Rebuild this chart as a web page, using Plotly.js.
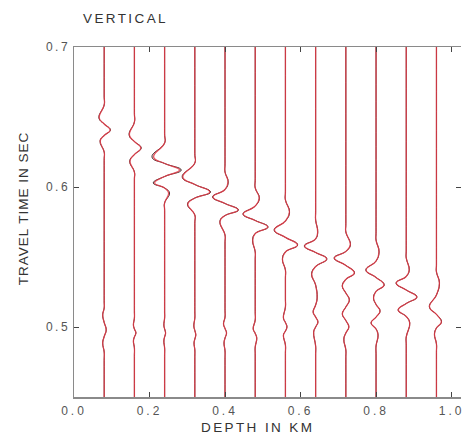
<!DOCTYPE html>
<html>
<head>
<meta charset="utf-8">
<script src="https://cdn.plot.ly/plotly-3.0.1.min.js"></script>
<style>
  html, body { margin: 0; padding: 0; background: #fff; }
  #plot { width: 473px; height: 435px; }
  .xtick text { letter-spacing: 3px; }
  .ytick text { letter-spacing: 2.5px; }
  .annotation-text { letter-spacing: 2.4px; }
  .annotation[data-index="2"] .annotation-text { letter-spacing: 1px; }
</style>
</head>
<body>
<div id="plot"></div>
<script>
// Receiver depths (km) of the vertical-component traces
const depths = [0.08, 0.16, 0.24, 0.32, 0.40, 0.48, 0.56, 0.64, 0.72, 0.80, 0.88, 0.96];

// Sample times (s) for each trace: flat stretches, then turning points and crossings
const traceTimes = [
  [0.70, 0.6650, 0.6586, 0.6493, 0.6450, 0.6407, 0.6368, 0.6329, 0.6250, 0.6190, 0.5190, 0.5136, 0.5086, 0.5032, 0.4979, 0.4932, 0.4886, 0.4821, 0.4760, 0.45],
  [0.70, 0.6530, 0.6464, 0.6371, 0.6325, 0.6279, 0.6232, 0.6186, 0.6107, 0.6050, 0.5120, 0.5064, 0.5014, 0.4986, 0.4957, 0.4929, 0.4900, 0.4850, 0.4790, 0.45],
  [0.70, 0.6380, 0.6314, 0.6214, 0.6168, 0.6121, 0.6075, 0.6029, 0.5993, 0.5957, 0.5886, 0.5830, 0.5120, 0.5064, 0.5014, 0.4986, 0.4957, 0.4929, 0.4900, 0.4850, 0.4790, 0.45],
  [0.70, 0.6240, 0.6171, 0.6071, 0.6018, 0.5964, 0.5921, 0.5879, 0.5800, 0.5740, 0.5120, 0.5064, 0.5007, 0.4975, 0.4943, 0.4914, 0.4886, 0.4836, 0.4780, 0.45],
  [0.70, 0.6170, 0.6107, 0.6036, 0.5982, 0.5929, 0.5882, 0.5836, 0.5796, 0.5757, 0.5657, 0.5600, 0.5130, 0.5071, 0.5021, 0.4989, 0.4957, 0.4921, 0.4886, 0.4829, 0.4770, 0.45],
  [0.70, 0.6060, 0.5993, 0.5921, 0.5864, 0.5807, 0.5761, 0.5714, 0.5668, 0.5621, 0.5536, 0.5480, 0.5110, 0.5050, 0.4986, 0.4954, 0.4921, 0.4857, 0.4800, 0.45],
  [0.70, 0.5970, 0.5907, 0.5821, 0.5757, 0.5693, 0.5640, 0.5586, 0.5536, 0.5486, 0.5407, 0.5350, 0.5200, 0.5143, 0.5064, 0.5032, 0.5000, 0.4971, 0.4943, 0.4871, 0.4810, 0.45],
  [0.70, 0.5830, 0.5764, 0.5679, 0.5629, 0.5579, 0.5532, 0.5486, 0.5432, 0.5379, 0.5300, 0.5207, 0.5157, 0.5107, 0.5071, 0.5036, 0.5000, 0.4964, 0.4864, 0.4800, 0.45],
  [0.70, 0.5740, 0.5679, 0.5586, 0.5540, 0.5493, 0.5440, 0.5386, 0.5340, 0.5293, 0.5243, 0.5193, 0.5143, 0.5093, 0.5046, 0.5000, 0.4957, 0.4914, 0.4836, 0.4780, 0.45],
  [0.70, 0.5680, 0.5621, 0.5536, 0.5471, 0.5407, 0.5354, 0.5300, 0.5254, 0.5207, 0.5161, 0.5114, 0.5071, 0.5029, 0.4986, 0.4943, 0.4864, 0.4800, 0.45],
  [0.70, 0.5550, 0.5493, 0.5407, 0.5361, 0.5314, 0.5264, 0.5214, 0.5168, 0.5121, 0.5075, 0.5029, 0.4929, 0.4870, 0.45],
  [0.70, 0.5450, 0.5393, 0.5314, 0.5229, 0.5143, 0.5090, 0.5036, 0.4993, 0.4950, 0.4879, 0.4820, 0.45]
];

// Synthetic trace deflections (km along the depth axis), drawn in red
const synthOffsets = [
  [0, 0, 0, -0.0132, 0, 0.0159, 0, -0.0106, 0, 0, 0, 0, -0.0040, 0, 0.0053, 0, -0.0040, 0, 0, 0],
  [0, 0, 0, -0.0132, 0, 0.0172, 0, -0.0119, 0, 0, 0, 0, -0.0026, 0, 0.0040, 0, -0.0026, 0, 0, 0],
  [0, 0, 0, -0.0291, 0, 0.0397, 0, -0.0265, 0, 0.0106, 0, 0, 0, 0, -0.0020, 0, 0.0026, 0, -0.0020, 0, 0, 0],
  [0, 0, 0, -0.0318, 0, 0.0397, 0, -0.0185, 0, 0, 0, 0, -0.0026, 0, 0.0026, 0, -0.0020, 0, 0, 0],
  [0, 0, 0, 0.0079, 0, -0.0318, 0, 0.0344, 0, -0.0132, 0, 0, 0, 0, -0.0040, 0, 0.0040, 0, -0.0026, 0, 0, 0],
  [0, 0, 0, 0.0106, 0, -0.0318, 0, 0.0331, 0, -0.0066, 0, 0, 0, 0, -0.0053, 0, 0.0040, 0, 0, 0],
  [0, 0, 0, 0.0106, 0, -0.0291, 0, 0.0318, 0, -0.0079, 0, 0, 0, 0, -0.0053, 0, 0.0040, 0, -0.0053, 0, 0, 0],
  [0, 0, 0, 0.0053, 0, -0.0291, 0, 0.0291, 0, -0.0106, 0, 0.0040, 0, -0.0066, 0, 0.0060, 0, -0.0053, 0, 0, 0],
  [0, 0, 0, 0.0119, 0, -0.0304, 0, 0.0225, 0, -0.0093, 0, 0.0093, 0, -0.0093, 0, 0.0079, 0, -0.0053, 0, 0, 0],
  [0, 0, 0, 0.0079, 0, -0.0265, 0, 0.0212, 0, -0.0066, 0, 0.0106, 0, -0.0132, 0, 0.0053, 0, 0, 0],
  [0, 0, 0, 0.0079, 0, -0.0265, 0, 0.0278, 0, -0.0212, 0, 0.0093, 0, 0, 0],
  [0, 0, 0, 0.0079, 0, -0.0185, 0, 0.0132, 0, -0.0053, 0, 0, 0]
];

// Observed trace deflections (km along the depth axis), drawn in black underneath
const observedOffsets = [
  [0, 0, 0, -0.0140, 0, 0.0165, 0, -0.0110, 0, 0, 0, 0, -0.0040, 0, 0.0053, 0, -0.0040, 0, 0, 0],
  [0, 0, 0, -0.0140, 0, 0.0180, 0, -0.0125, 0, 0, 0, 0, -0.0026, 0, 0.0040, 0, -0.0026, 0, 0, 0],
  [0, 0, 0, -0.0335, 0, 0.0440, 0, -0.0300, 0, 0.0130, 0, 0, 0, 0, -0.0020, 0, 0.0026, 0, -0.0020, 0, 0, 0],
  [0, 0, 0, -0.0335, 0, 0.0415, 0, -0.0195, 0, 0, 0, 0, -0.0026, 0, 0.0026, 0, -0.0020, 0, 0, 0],
  [0, 0, 0, 0.0085, 0, -0.0330, 0, 0.0355, 0, -0.0135, 0, 0, 0, 0, -0.0040, 0, 0.0040, 0, -0.0026, 0, 0, 0],
  [0, 0, 0, 0.0110, 0, -0.0325, 0, 0.0340, 0, -0.0070, 0, 0, 0, 0, -0.0053, 0, 0.0040, 0, 0, 0],
  [0, 0, 0, 0.0110, 0, -0.0300, 0, 0.0325, 0, -0.0080, 0, 0, 0, 0, -0.0053, 0, 0.0040, 0, -0.0053, 0, 0, 0],
  [0, 0, 0, 0.0055, 0, -0.0300, 0, 0.0298, 0, -0.0108, 0, 0.0040, 0, -0.0066, 0, 0.0060, 0, -0.0053, 0, 0, 0],
  [0, 0, 0, 0.0122, 0, -0.0310, 0, 0.0230, 0, -0.0095, 0, 0.0093, 0, -0.0093, 0, 0.0079, 0, -0.0053, 0, 0, 0],
  [0, 0, 0, 0.0080, 0, -0.0270, 0, 0.0216, 0, -0.0068, 0, 0.0106, 0, -0.0132, 0, 0.0053, 0, 0, 0],
  [0, 0, 0, 0.0080, 0, -0.0270, 0, 0.0283, 0, -0.0215, 0, 0.0093, 0, 0, 0],
  [0, 0, 0, 0.0080, 0, -0.0188, 0, 0.0135, 0, -0.0053, 0, 0, 0]
];

// Axis ticks
const depthTicks = [0.0, 0.2, 0.4, 0.6, 0.8, 1.0];
const depthTickText = ["0.0", "0.2", "0.4", "0.6", "0.8", "1.0"];
const timeTicks = [0.5, 0.6, 0.7];
const timeTickText = ["0.5", "0.6", "0.7"];

const traces = [];
function wiggle(k, offsets, color, width, opacity) {
  return {
    type: 'scatter',
    mode: 'lines',
    x: offsets[k].map(d => depths[k] + d),
    y: traceTimes[k],
    opacity: opacity,
    line: { color: color, width: width, shape: 'spline', smoothing: 1.3 },
    hoverinfo: 'skip',
    showlegend: false
  };
}
for (let k = 0; k < depths.length; k++) {
  traces.push(wiggle(k, observedOffsets, '#2a0c0c', 0.9, 1));
}
for (let k = 0; k < depths.length; k++) {
  traces.push(wiggle(k, synthOffsets, '#e23a46', 1.3, 0.85));
}
// right-hand tick marks only (no frame line on that side)
traces.push({ type: 'scatter', x: [], y: [], yaxis: 'y2', showlegend: false, hoverinfo: 'skip' });

const axisGray = '#8a8a8a';
const labelFont = { family: 'Liberation Sans, Arial, sans-serif', size: 12, color: '#555' };
const titleFont = { family: 'Liberation Sans, Arial, sans-serif', size: 13.5, color: '#333' };

const layout = {
  width: 473,
  height: 435,
  margin: { l: 74, r: 12, t: 47, b: 38, pad: 0 },
  paper_bgcolor: '#fff',
  plot_bgcolor: '#fff',
  showlegend: false,
  xaxis: {
    range: [0, 1.025],
    tickvals: depthTicks,
    ticktext: depthTickText,
    ticks: 'inside',
    ticklen: 5,
    tickwidth: 1,
    tickcolor: '#444',
    showline: true,
    linecolor: axisGray,
    linewidth: 1.5,
    mirror: 'ticks',
    showgrid: false,
    zeroline: false,
    tickfont: labelFont,
    ticklabelstandoff: 2
  },
  yaxis: {
    range: [0.45, 0.7],
    tickvals: timeTicks,
    ticktext: timeTickText,
    ticks: 'inside',
    ticklen: 5,
    tickwidth: 1,
    tickcolor: '#444',
    showline: true,
    linecolor: axisGray,
    linewidth: 1.5,
    showgrid: false,
    zeroline: false,
    tickfont: labelFont,
    ticklabelstandoff: 0
  },
  yaxis2: {
    overlaying: 'y',
    side: 'right',
    range: [0.45, 0.7],
    tickvals: timeTicks,
    ticks: 'inside',
    ticklen: 5,
    tickcolor: '#444',
    showticklabels: false,
    showline: false,
    showgrid: false,
    zeroline: false
  },
  annotations: [
    { text: 'VERTICAL', xref: 'paper', yref: 'paper', x: 0.134, y: 1.08,
      xanchor: 'center', yanchor: 'middle', showarrow: false, font: titleFont },
    { text: 'DEPTH IN KM', xref: 'paper', yref: 'paper', x: 0.473, y: -0.086,
      xanchor: 'center', yanchor: 'middle', showarrow: false, font: titleFont },
    { text: 'TRAVEL TIME IN SEC', xref: 'paper', yref: 'paper', x: -0.132, y: 0.54,
      xanchor: 'center', yanchor: 'middle', textangle: -90, showarrow: false, font: titleFont }
  ]
};

Plotly.newPlot('plot', traces, layout, { staticPlot: true, displayModeBar: false });
</script>
</body>
</html>
